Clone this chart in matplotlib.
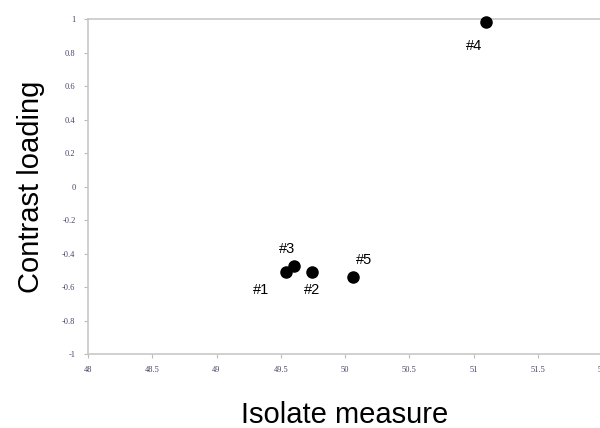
import matplotlib
matplotlib.use('Agg')
import matplotlib.pyplot as plt
import numpy as np

# isolate measure vs contrast loading for five samples
labels = ['#1', '#2', '#3', '#4', '#5']
isolate = [49.54, 49.74, 49.60, 51.10, 50.06]
contrast = [-0.51, -0.51, -0.475, 0.98, -0.54]
# label offsets in points (dx, dy)
offsets = [(-18, -13), (0, -13), (-5, 12), (-9, -17), (8, 12)]

x_ticks = [48, 48.5, 49, 49.5, 50, 50.5, 51, 51.5, 52]
y_ticks = [-1, -0.8, -0.6, -0.4, -0.2, 0, 0.2, 0.4, 0.6, 0.8, 1]

fig = plt.figure(figsize=(6, 4.28), dpi=100)
ax = fig.add_axes([88 / 600, 1 - 354 / 428, 514 / 600, 335 / 428])

ax.scatter(isolate, contrast, s=64, color='black', zorder=3, clip_on=False)
for lab, x, y, (dx, dy) in zip(labels, isolate, contrast, offsets):
    ax.annotate(lab, (x, y), xytext=(dx, dy), textcoords='offset points',
                ha='center', va='center', fontsize=10.5, family='Liberation Sans')

ax.set_xlim(48, 52)
ax.set_ylim(-1, 1)
ax.set_xticks(x_ticks)
ax.set_yticks(y_ticks)
ax.set_xticklabels([f'{t:g}' for t in x_ticks])
ax.set_yticklabels([f'{t:g}' for t in y_ticks])

for lab in ax.get_xticklabels() + ax.get_yticklabels():
    lab.set_family('Liberation Serif')
    lab.set_fontsize(6)
    lab.set_color('#444466')
ax.tick_params(direction='out', length=3, width=0.8, color='#bbbbbb', pad=6)

for side in ['left', 'bottom', 'top']:
    ax.spines[side].set_color('#c8c8c8')
    ax.spines[side].set_linewidth(1.2)
ax.spines['right'].set_visible(False)

ax.set_xlabel('Isolate measure', fontsize=21, family='Liberation Sans', labelpad=19)
ax.set_ylabel('Contrast loading', fontsize=21, family='Liberation Sans', labelpad=12)

plt.savefig('out.png', dpi=100)
